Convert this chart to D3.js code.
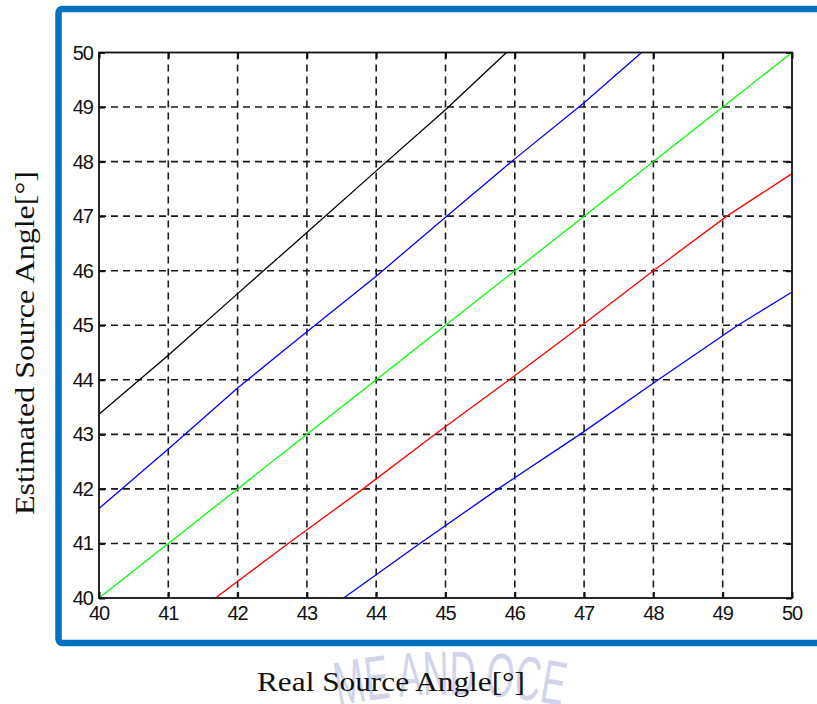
<!DOCTYPE HTML>
<head>
    <script src="https://cdn.jsdelivr.net/npm/d3@7"></script>
</head>

<body style="margin:0; background:#fff;">
    <div id="svgDiv">
        <svg width="817" height="704"></svg>
    </div>
</body>

<style>
    .tick-label { font-family: "Liberation Sans", Arial, sans-serif; font-size: 20px; fill: #111; }
    .axis-title { font-family: "Liberation Serif", "DejaVu Serif", serif; font-size: 28px; fill: #111; }
</style>

<script>
    // tick labels
    var xTickLabels = [40, 41, 42, 43, 44, 45, 46, 47, 48, 49, 50];
    var yTickLabels = [40, 41, 42, 43, 44, 45, 46, 47, 48, 49, 50];

    // series: real angle -> estimated angle
    var blackReal = [40, 41, 42, 43, 44, 45, 45.88];
    var blackEst  = [43.37, 44.45, 45.58, 46.7, 47.83, 48.95, 50];

    var blueTopReal = [40, 41, 42, 43, 44, 45, 46, 47, 47.83];
    var blueTopEst  = [41.64, 42.73, 43.85, 44.88, 45.9, 46.98, 48.05, 49.08, 50];

    var greenReal = [40, 41, 42, 43, 44, 45, 46, 47, 48, 49, 50];
    var greenEst  = [40, 41, 42, 43, 44, 45, 46, 47, 48, 49, 50];

    var redReal = [41.68, 42.73, 43.81, 44.85, 45.92, 46.97, 48.0, 49.06, 50];
    var redEst  = [40, 41, 42, 43, 44, 45, 46, 47, 47.78];

    var blueLowReal = [43.53, 44.63, 45.76, 46.94, 48.07, 49.22, 50];
    var blueLowEst  = [40, 41, 42, 43, 44, 45, 45.61];

    var series = [
        {color: "#000000", real: blackReal, est: blackEst},
        {color: "#0000ff", real: blueTopReal, est: blueTopEst},
        {color: "#00ff00", real: greenReal, est: greenEst},
        {color: "#ff0000", real: redReal, est: redEst},
        {color: "#0000ff", real: blueLowReal, est: blueLowEst}
    ];

    var xLabel = "Real Source Angle[\u00b0]";
    var yLabel = "Estimated Source Angle[\u00b0]";
    var watermark = "ME AND OCE";

    // plot box (note: "top" is taken by window.top)
    var pLeft = 99, pRight = 792, pTop = 52.5, pBottom = 598;

    var vis = d3.select("svg");

    var x = d3.scaleLinear().domain([40, 50]).range([pLeft, pRight]);
    var y = d3.scaleLinear().domain([40, 50]).range([pBottom, pTop]);

    //watermark on an arc, sits behind the x title
    vis.append("path")
        .attr("id", "wmArc")
        .attr("d", "M 180 764 A 560 560 0 0 1 720 764")
        .attr("fill", "none");
    vis.append("text")
        .attr("font-family", "Liberation Sans, Arial, sans-serif")
        .attr("font-size", 62)
        .attr("fill", "#c6cae6")
        .attr("opacity", 0.8)
        .append("textPath")
        .attr("href", "#wmArc")
        .attr("startOffset", "50%")
        .attr("text-anchor", "middle")
        .attr("textLength", 225)
        .attr("lengthAdjust", "spacingAndGlyphs")
        .text(watermark);

    //blue frame
    vis.append("rect")
        .attr("x", 58.5).attr("y", 9)
        .attr("width", 820).attr("height", 634)
        .attr("rx", 4)
        .attr("fill", "#fff")
        .attr("stroke", "#0070c0")
        .attr("stroke-width", 6.5);

    //grid
    vis.append("g")
        .selectAll("line")
        .data(xTickLabels.slice(1, -1))
        .enter()
        .append("line")
        .attr("x1", d => x(d)).attr("x2", d => x(d))
        .attr("y1", pTop).attr("y2", pBottom)
        .attr("stroke", "#1a1a1a")
        .attr("stroke-width", 1.6)
        .attr("stroke-dasharray", "7,5");
    vis.append("g")
        .selectAll("line")
        .data(yTickLabels.slice(1, -1))
        .enter()
        .append("line")
        .attr("y1", d => y(d)).attr("y2", d => y(d))
        .attr("x1", pLeft).attr("x2", pRight)
        .attr("stroke", "#1a1a1a")
        .attr("stroke-width", 1.6)
        .attr("stroke-dasharray", "7,5");

    //lines
    var line = d3.line()
        .x(d => x(d[0]))
        .y(d => y(d[1]));

    vis.append("g")
        .selectAll("path")
        .data(series)
        .enter()
        .append("path")
        .attr("d", d => line(d3.zip(d.real, d.est)))
        .attr("fill", "none")
        .attr("stroke", d => d.color)
        .attr("stroke-width", 1.3);

    //axes with inward ticks on all four sides
    var tl = 6;
    vis.append("g").attr("transform", "translate(0," + pBottom + ")")
        .call(d3.axisBottom(x).tickValues(xTickLabels).tickSizeInner(-tl).tickSizeOuter(0).tickFormat(""));
    vis.append("g").attr("transform", "translate(0," + pTop + ")")
        .call(d3.axisTop(x).tickValues(xTickLabels).tickSizeInner(-tl).tickSizeOuter(0).tickFormat(""));
    vis.append("g").attr("transform", "translate(" + pLeft + ",0)")
        .call(d3.axisLeft(y).tickValues(yTickLabels).tickSizeInner(-tl).tickSizeOuter(0).tickFormat(""));
    vis.append("g").attr("transform", "translate(" + pRight + ",0)")
        .call(d3.axisRight(y).tickValues(yTickLabels).tickSizeInner(-tl).tickSizeOuter(0).tickFormat(""));
    vis.selectAll(".domain").remove();
    vis.selectAll(".tick line").attr("stroke", "#111").attr("stroke-width", 2);

    //box
    vis.append("rect")
        .attr("x", pLeft).attr("y", pTop)
        .attr("width", pRight - pLeft).attr("height", pBottom - pTop)
        .attr("fill", "none")
        .attr("stroke", "#111")
        .attr("stroke-width", 1.8);

    //tick labels
    vis.append("g")
        .selectAll("text")
        .data(xTickLabels)
        .enter()
        .append("text")
        .attr("class", "tick-label")
        .attr("x", d => x(d))
        .attr("y", pBottom + 22)
        .attr("text-anchor", "middle")
        .attr("letter-spacing", -1)
        .text(d => d);
    vis.append("g")
        .selectAll("text")
        .data(yTickLabels)
        .enter()
        .append("text")
        .attr("class", "tick-label")
        .attr("x", pLeft - 6)
        .attr("y", d => y(d) + 7)
        .attr("text-anchor", "end")
        .attr("letter-spacing", -1)
        .text(d => d);

    //axis titles
    vis.append("text")
        .attr("class", "axis-title")
        .attr("x", 391)
        .attr("y", 691)
        .attr("text-anchor", "middle")
        .attr("textLength", 268)
        .attr("lengthAdjust", "spacingAndGlyphs")
        .text(xLabel);
    vis.append("text")
        .attr("class", "axis-title")
        .attr("transform", "translate(34,343) rotate(-90)")
        .attr("text-anchor", "middle")
        .attr("textLength", 344)
        .attr("lengthAdjust", "spacingAndGlyphs")
        .text(yLabel);
</script>
